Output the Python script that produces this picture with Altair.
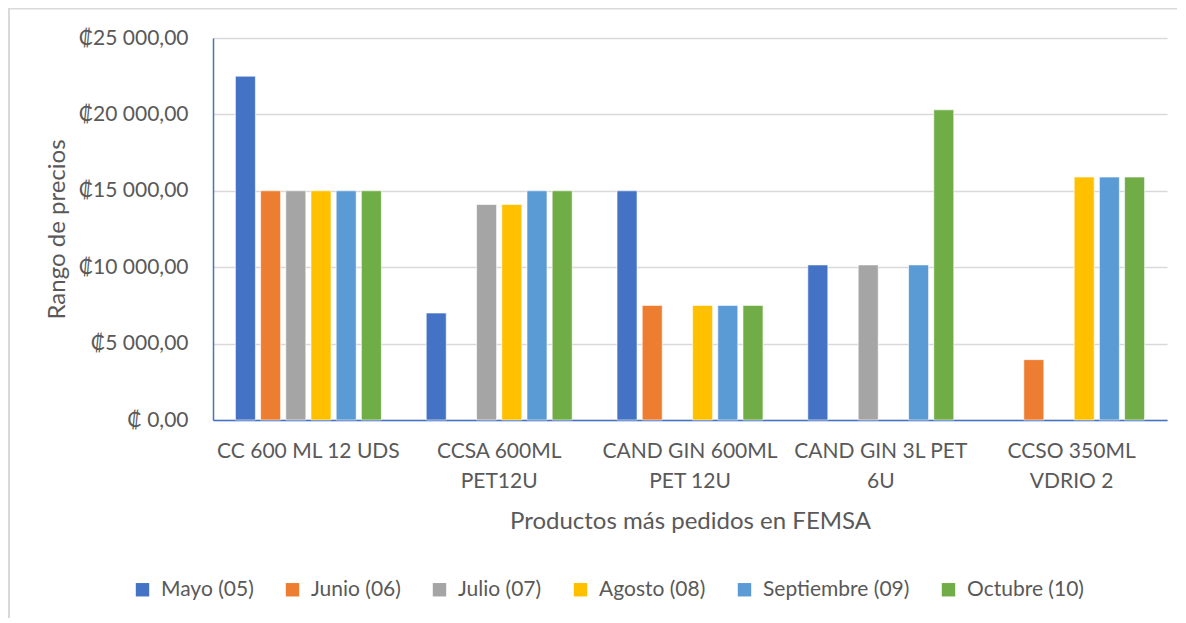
import altair as alt
import pandas as pd

products = ["CC 600 ML 12 UDS", "CCSA 600ML|PET12U", "CAND GIN 600ML|PET 12U",
            "CAND GIN 3L PET|6U", "CCSO 350ML|VDRIO 2"]
months = ["Mayo (05)", "Junio (06)", "Julio (07)", "Agosto (08)",
          "Septiembre (09)", "Octubre (10)"]
colors = ["#4472C4", "#ED7D31", "#A5A5A5", "#FFC000", "#5B9BD5", "#70AD47"]

mayo = [22500, 7000, 15000, 10150, None]
junio = [15000, None, 7500, None, 3950]
julio = [15000, 14100, None, 10150, None]
agosto = [15000, 14100, 7500, None, 15900]
septiembre = [15000, 15000, 7500, 10150, 15900]
octubre = [15000, 15000, 7500, 20300, 15900]
y_ticks = [0, 5000, 10000, 15000, 20000, 25000]

series = [mayo, junio, julio, agosto, septiembre, octubre]
rows = []
for m, vals in zip(months, series):
    for p, v in zip(products, vals):
        if v is not None:
            rows.append({"producto": p, "mes": m, "precio": v})
df = pd.DataFrame(rows)

FONT = "Lato"
GREY = "#595959"

bars = alt.Chart(df).mark_bar(stroke="white", strokeWidth=0.6).encode(
    x=alt.X("producto:N", sort=products,
            scale=alt.Scale(paddingInner=0.235, paddingOuter=0.1175),
            axis=alt.Axis(title="Productos más pedidos en FEMSA",
                          labelExpr="split(datum.label, '|')",
                          labelAngle=0, labelPadding=20, labelLineHeight=30,
                          labelBaseline="top", labelLimit=400, labelOverlap=False,
                          ticks=False, titleY=101, titleBaseline="middle")),
    xOffset=alt.XOffset("mes:N", sort=months,
                        scale=alt.Scale(paddingInner=0.206, paddingOuter=0)),
    y=alt.Y("precio:Q", scale=alt.Scale(domain=[0, 25000], nice=False),
            axis=alt.Axis(title="Rango de precios", values=y_ticks,
                          labelExpr="datum.value == 0 ? '₡ 0,00' : '₡' + replace(replace(format(datum.value, ',.2f'), ',', ' '), '.', ',')",
                          labelPadding=25, ticks=False, grid=True,
                          titleX=-156, titleY=191, titleAngle=270,
                          titleBaseline="middle", titleAlign="center")),
    color=alt.Color("mes:N", sort=months,
                    scale=alt.Scale(domain=months, range=colors),
                    legend=alt.Legend(title=None, orient="none", direction="horizontal",
                                      columns=6, legendX=-81, legendY=541,
                                      symbolType="square", symbolSize=180,
                                      symbolStrokeWidth=0, labelOffset=8,
                                      columnPadding=28)),
)

border = alt.Chart(alt.Data(values=[{}])).mark_rect(
    fill=None, stroke="#d9d9d9", strokeWidth=2
).encode(x=alt.value(-204), x2=alt.value(1200), y=alt.value(-29.5), y2=alt.value(700))

chart = alt.layer(border, bars).properties(
    width=954, height=382,
    padding={"left": 205, "top": 30, "right": 10, "bottom": 198},
    autosize=alt.AutoSizeParams(type="none"),
).configure_view(stroke=None).configure_axis(
    labelFont=FONT, titleFont=FONT, labelFontSize=21, titleFontSize=24,
    labelColor=GREY, titleColor=GREY, titleFontWeight="normal",
    domainColor="#4472C4", domainWidth=1.5,
    gridColor="#d9d9d9", gridWidth=1.5,
).configure_legend(
    labelFont=FONT, labelFontSize=21, labelColor=GREY,
)

chart.save("out.html", embed_options={"renderer": "svg", "actions": False})
